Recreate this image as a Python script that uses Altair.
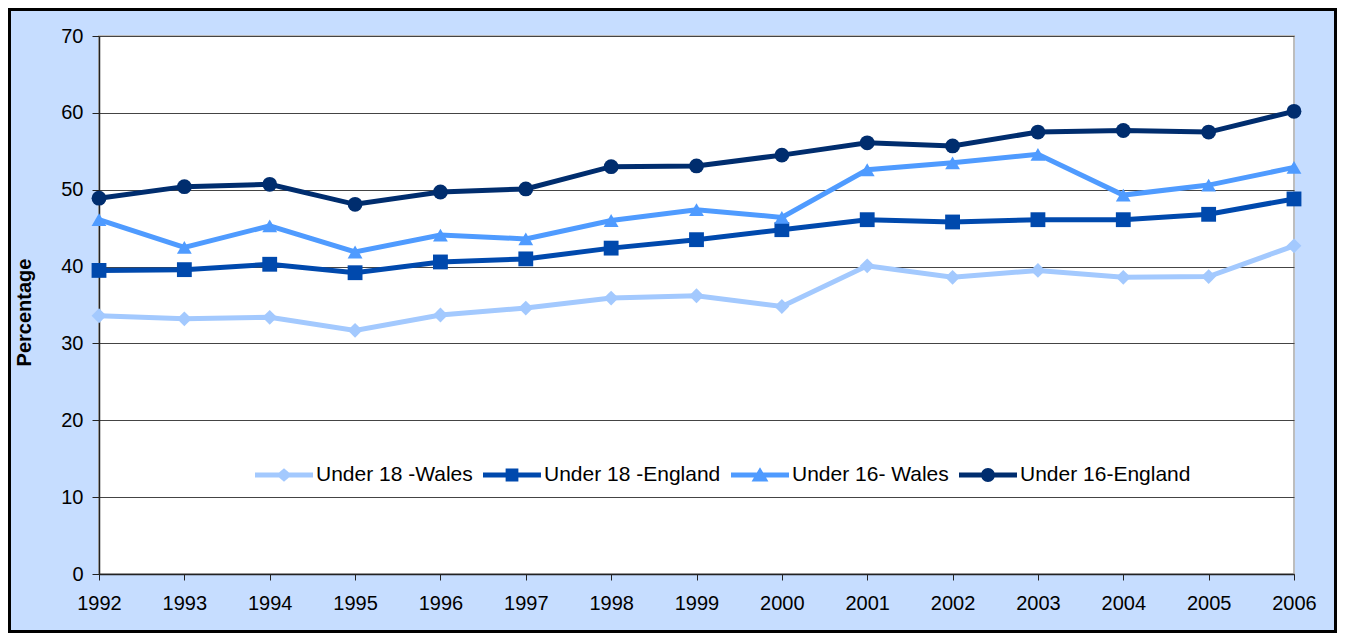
import altair as alt
import pandas as pd

years = list(range(1992, 2007))
series = ["Under 18 -Wales", "Under 18 -England", "Under 16- Wales", "Under 16-England"]
colors = ["#A3C9FE", "#0049AD", "#4F9BFF", "#002D6E"]
shapes = ["diamond", "square", "triangle-up", "circle"]

u18_wales = [33.6, 33.2, 33.4, 31.7, 33.7, 34.6, 35.9, 36.2, 34.8, 40.1, 38.6, 39.5, 38.6, 38.7, 42.7]
u18_england = [39.5, 39.6, 40.3, 39.2, 40.6, 41.0, 42.4, 43.5, 44.8, 46.1, 45.8, 46.1, 46.1, 46.8, 48.8]
u16_wales = [46.1, 42.5, 45.3, 41.9, 44.1, 43.6, 46.0, 47.4, 46.4, 52.6, 53.5, 54.6, 49.3, 50.6, 52.9]
u16_england = [48.9, 50.4, 50.7, 48.1, 49.7, 50.1, 53.0, 53.1, 54.5, 56.1, 55.7, 57.5, 57.7, 57.5, 60.2]

y_ticks = [0, 10, 20, 30, 40, 50, 60, 70]

rows = []
for name, vals in zip(series, [u18_wales, u18_england, u16_wales, u16_england]):
    for yr, v in zip(years, vals):
        rows.append({"year": yr, "series": name, "value": v})
df = pd.DataFrame(rows)

W, H = 1195, 538
PL, PT, PR, PB = 91, 28, 43, 59

# legend symbols: line segment with the series marker on it
line_path = "M-1,-0.085H1V0.085H-1Z"
legend_shapes = [
    line_path + "M0,-0.23L0.27,0L0,0.23L-0.27,0Z",
    line_path + "M-0.22,-0.22H0.22V0.22H-0.22Z",
    line_path + "M0,-0.27L0.29,0.22H-0.29Z",
    line_path + "M-0.24,0A0.24,0.24,0,1,1,0.24,0A0.24,0.24,0,1,1,-0.24,0Z",
]

legend = alt.Legend(
    title=None,
    orient="none",
    legendX=149,
    legendY=403,
    direction="horizontal",
    fillColor="white",
    padding=7,
    labelFontSize=21,
    labelColor="black",
    labelFont="Liberation Sans",
    labelOffset=3,
    columnPadding=10,
    symbolSize=3364,
    symbolStrokeWidth=0,
    symbolOpacity=1,
    labelLimit=400,
)

x_enc = alt.X(
    "year:Q",
    scale=alt.Scale(domain=[1992, 2006], nice=False, zero=False),
    axis=alt.Axis(
        values=years,
        format="d",
        title=None,
        grid=False,
        labelFontSize=20,
        labelColor="black",
        labelPadding=13,
        tickSize=6,
        tickColor="#222222",
        domainColor="#222222",
        domainWidth=1.5,
        labelFlush=False,
        labelOverlap=False,
    ),
)
y_enc = alt.Y(
    "value:Q",
    scale=alt.Scale(domain=[0, 70], nice=False),
    axis=alt.Axis(
        values=y_ticks,
        title="Percentage",
        titleFontSize=20,
        titleFontWeight="bold",
        titleColor="black",
        titlePadding=26,
        titleY=276,
        labelFontSize=20,
        labelColor="black",
        labelPadding=9,
        tickSize=7,
        tickColor="#222222",
        domainColor="#222222",
        domainWidth=1.5,
        gridColor="#444444",
        gridWidth=1,
    ),
)
color_scale = alt.Scale(domain=series, range=colors)
color_enc = alt.Color("series:N", scale=color_scale, legend=legend)

base = alt.Chart(df)
lines = base.mark_line(strokeWidth=5).encode(x=x_enc, y=y_enc, color=color_enc)

point_layers = [
    base.transform_filter(alt.datum.series == name)
    .mark_point(filled=True, opacity=1, size=220, shape=shp)
    .encode(x=x_enc, y=y_enc, color=color_enc)
    for name, shp in zip(series, shapes)
]

legend_layer = base.mark_point(filled=True, opacity=0, size=3364).encode(
    x=x_enc,
    y=y_enc,
    color=color_enc,
    shape=alt.Shape("series:N", scale=alt.Scale(domain=series, range=legend_shapes), legend=legend),
)

border = alt.Chart(pd.DataFrame({"a": [0]})).mark_rect(
    fillOpacity=0, stroke="black", strokeWidth=3
).encode(
    x=alt.value(-PL + 1.5),
    x2=alt.value(W + PR - 1.5),
    y=alt.value(-PT + 1.5),
    y2=alt.value(H + PB - 1.5),
)

chart = (
    alt.layer(lines, *point_layers, legend_layer, border)
    .properties(
        width=W,
        height=H,
        padding={"left": PL, "top": PT, "right": PR, "bottom": PB},
        autosize=alt.AutoSizeParams(type="none"),
        background="#C6DDFF",
    )
    .configure(font="Liberation Sans")
    .configure_view(stroke="#BDBDBD", strokeWidth=2, fill="white")
)

chart.save("out.html", embed_options={"renderer": "svg", "actions": False})
